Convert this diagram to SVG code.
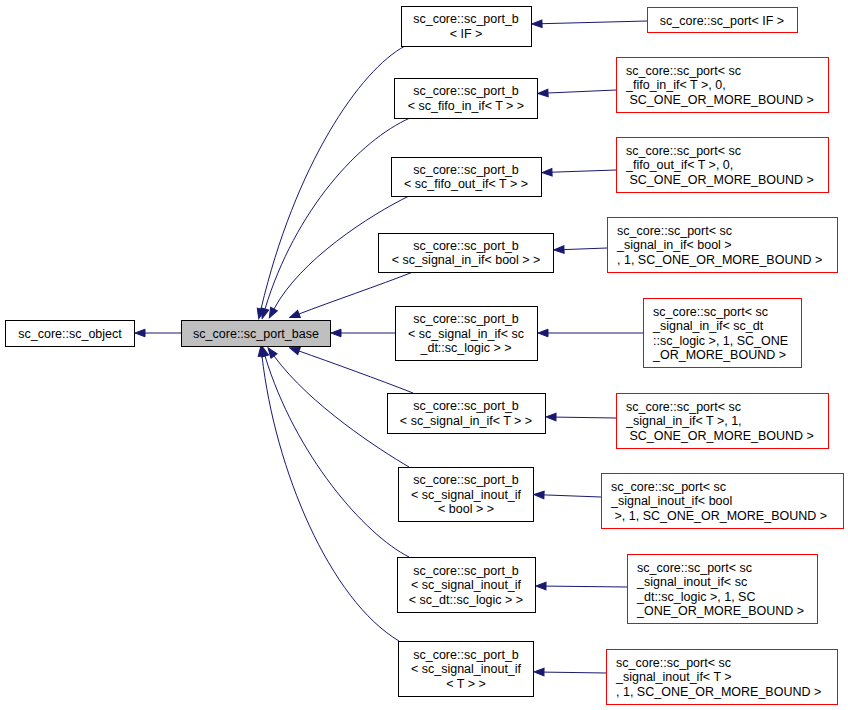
<svg xmlns="http://www.w3.org/2000/svg" width="848" height="710" viewBox="0 0 848 710">
<style>
text{font-family:"Liberation Sans",Arial,sans-serif;font-size:12.5px;fill:#000}
.c{text-anchor:middle}
.b{fill:#fff;stroke:#000;stroke-width:1}
.r{fill:#fff;stroke:#ff0000;stroke-width:1}
.g{fill:#bfbfbf;stroke:#000;stroke-width:1}
.e{fill:none;stroke:#191970;stroke-width:1;marker-end:url(#ah)}
</style>
<defs>
<marker id="ah" markerUnits="userSpaceOnUse" markerWidth="12" markerHeight="10" viewBox="-1 -5 12 10" refX="0" refY="0" orient="auto">
<path d="M0,-3.8 L10,0 L0,3.8 z" fill="#191970" stroke="#191970" stroke-width="1"/>
</marker>
</defs>
<rect width="848" height="710" fill="#fff"/>
<g id="connectors">
<path class="e" d="M181,333 L145,333"/>
<path class="e" d="M405,46 C360,70 295,165 261,309"/>
<path class="e" d="M410,118 C360,140 295,210 265,309"/>
<path class="e" d="M409,196 C370,215 300,260 274,309"/>
<path class="e" d="M413,272 C380,285 330,302 299,314"/>
<path class="e" d="M395,333 L341,333"/>
<path class="e" d="M413,393 C380,380 330,362 299,351"/>
<path class="e" d="M409,467 C380,450 310,405 274,356"/>
<path class="e" d="M409,557 C365,535 295,455 265,356"/>
<path class="e" d="M399,641 C330,600 275,470 262,356"/>
<path class="e" d="M647,21 L542,23.7"/>
<path class="e" d="M616,90 L548,93"/>
<path class="e" d="M616,170 L552,172.2"/>
<path class="e" d="M607,248 L564,249.6"/>
<path class="e" d="M643,333 L548,333"/>
<path class="e" d="M616,418 L556,417.1"/>
<path class="e" d="M601,497 L544,494.9"/>
<path class="e" d="M627,587 L546,586.1"/>
<path class="e" d="M606,673 L544,672.1"/>
</g>
<g id="sc_object">
<rect class="b" x="5.5" y="320.5" width="129" height="26"/>
<text class="c" x="70" y="337.5">sc_core::sc_object</text>
</g>
<g id="sc_port_base">
<rect class="g" x="181.5" y="320.5" width="149" height="26"/>
<text class="c" x="256" y="337.5">sc_core::sc_port_base</text>
</g>
<g id="port_b_IF">
<rect class="b" x="401.5" y="6.5" width="130" height="40"/>
<text class="c" x="466" y="23"><tspan x="466">sc_core::sc_port_b</tspan><tspan x="466" dy="14.5">&lt; IF &gt;</tspan></text>
</g>
<g id="port_b_fifo_in">
<rect class="b" x="394.5" y="78.5" width="143" height="40"/>
<text class="c" x="466" y="95"><tspan x="466">sc_core::sc_port_b</tspan><tspan x="466" dy="14.5">&lt; sc_fifo_in_if&lt; T &gt; &gt;</tspan></text>
</g>
<g id="port_b_fifo_out">
<rect class="b" x="391.5" y="157.5" width="150" height="39"/>
<text class="c" x="466" y="173.5"><tspan x="466">sc_core::sc_port_b</tspan><tspan x="466" dy="14.5">&lt; sc_fifo_out_if&lt; T &gt; &gt;</tspan></text>
</g>
<g id="port_b_signal_in_bool">
<rect class="b" x="378.5" y="233.5" width="175" height="39"/>
<text class="c" x="466" y="249.5"><tspan x="466">sc_core::sc_port_b</tspan><tspan x="466" dy="14.5">&lt; sc_signal_in_if&lt; bool &gt; &gt;</tspan></text>
</g>
<g id="port_b_signal_in_logic">
<rect class="b" x="395.5" y="306.5" width="142" height="54"/>
<text class="c" x="466" y="323"><tspan x="466">sc_core::sc_port_b</tspan><tspan x="466" dy="14.5">&lt; sc_signal_in_if&lt; sc</tspan><tspan x="466" dy="14.5">_dt::sc_logic &gt; &gt;</tspan></text>
</g>
<g id="port_b_signal_in_T">
<rect class="b" x="387.5" y="393.5" width="158" height="40"/>
<text class="c" x="466" y="410"><tspan x="466">sc_core::sc_port_b</tspan><tspan x="466" dy="14.5">&lt; sc_signal_in_if&lt; T &gt; &gt;</tspan></text>
</g>
<g id="port_b_inout_bool">
<rect class="b" x="398.5" y="467.5" width="135" height="54"/>
<text class="c" x="466" y="484"><tspan x="466">sc_core::sc_port_b</tspan><tspan x="466" dy="14.5">&lt; sc_signal_inout_if</tspan><tspan x="466" dy="14.5">&lt; bool &gt; &gt;</tspan></text>
</g>
<g id="port_b_inout_logic">
<rect class="b" x="397.5" y="557.5" width="138" height="55"/>
<text class="c" x="466" y="574.5"><tspan x="466">sc_core::sc_port_b</tspan><tspan x="466" dy="14.5">&lt; sc_signal_inout_if</tspan><tspan x="466" dy="14.5">&lt; sc_dt::sc_logic &gt; &gt;</tspan></text>
</g>
<g id="port_b_inout_T">
<rect class="b" x="398.5" y="641.5" width="135" height="55"/>
<text class="c" x="466" y="658.5"><tspan x="466">sc_core::sc_port_b</tspan><tspan x="466" dy="14.5">&lt; sc_signal_inout_if</tspan><tspan x="466" dy="14.5">&lt; T &gt; &gt;</tspan></text>
</g>
<g id="port_IF">
<rect class="r" x="647.5" y="7.5" width="150" height="25"/>
<text class="c" x="722" y="24.5">sc_core::sc_port&lt; IF &gt;</text>
</g>
<g id="port_fifo_in">
<rect class="r" x="616.5" y="57.5" width="212" height="55"/>
<text x="626" y="74.5"><tspan x="626">sc_core::sc_port&lt; sc</tspan><tspan x="626" dy="14.5">_fifo_in_if&lt; T &gt;, 0,</tspan><tspan x="629.5" dy="14.5">SC_ONE_OR_MORE_BOUND &gt;</tspan></text>
</g>
<g id="port_fifo_out">
<rect class="r" x="616.5" y="137.5" width="212" height="55"/>
<text x="626" y="154.5"><tspan x="626">sc_core::sc_port&lt; sc</tspan><tspan x="626" dy="14.5">_fifo_out_if&lt; T &gt;, 0,</tspan><tspan x="629.5" dy="14.5">SC_ONE_OR_MORE_BOUND &gt;</tspan></text>
</g>
<g id="port_signal_in_bool">
<rect class="r" x="607.5" y="217.5" width="230" height="55"/>
<text x="617" y="234.5"><tspan x="617">sc_core::sc_port&lt; sc</tspan><tspan x="617" dy="14.5">_signal_in_if&lt; bool &gt;</tspan><tspan x="617" dy="14.5">, 1, SC_ONE_OR_MORE_BOUND &gt;</tspan></text>
</g>
<g id="port_signal_in_logic">
<rect class="r" x="643.5" y="298.5" width="158" height="69"/>
<text x="653" y="315.5"><tspan x="653">sc_core::sc_port&lt; sc</tspan><tspan x="653" dy="14.5">_signal_in_if&lt; sc_dt</tspan><tspan x="653" dy="14.5">::sc_logic &gt;, 1, SC_ONE</tspan><tspan x="653" dy="14.5">_OR_MORE_BOUND &gt;</tspan></text>
</g>
<g id="port_signal_in_T">
<rect class="r" x="616.5" y="393.5" width="212" height="55"/>
<text x="626" y="410.5"><tspan x="626">sc_core::sc_port&lt; sc</tspan><tspan x="626" dy="14.5">_signal_in_if&lt; T &gt;, 1,</tspan><tspan x="629.5" dy="14.5">SC_ONE_OR_MORE_BOUND &gt;</tspan></text>
</g>
<g id="port_inout_bool">
<rect class="r" x="601.5" y="473.5" width="242" height="55"/>
<text x="611" y="490.5"><tspan x="611">sc_core::sc_port&lt; sc</tspan><tspan x="611" dy="14.5">_signal_inout_if&lt; bool</tspan><tspan x="614.5" dy="14.5">&gt;, 1, SC_ONE_OR_MORE_BOUND &gt;</tspan></text>
</g>
<g id="port_inout_logic">
<rect class="r" x="627.5" y="554.5" width="190" height="69"/>
<text x="637" y="571.5"><tspan x="637">sc_core::sc_port&lt; sc</tspan><tspan x="637" dy="14.5">_signal_inout_if&lt; sc</tspan><tspan x="637" dy="14.5">_dt::sc_logic &gt;, 1, SC</tspan><tspan x="637" dy="14.5">_ONE_OR_MORE_BOUND &gt;</tspan></text>
</g>
<g id="port_inout_T">
<rect class="r" x="606.5" y="649.5" width="231" height="55"/>
<text x="616" y="666.5"><tspan x="616">sc_core::sc_port&lt; sc</tspan><tspan x="616" dy="14.5">_signal_inout_if&lt; T &gt;</tspan><tspan x="616" dy="14.5">, 1, SC_ONE_OR_MORE_BOUND &gt;</tspan></text>
</g>
</svg>
